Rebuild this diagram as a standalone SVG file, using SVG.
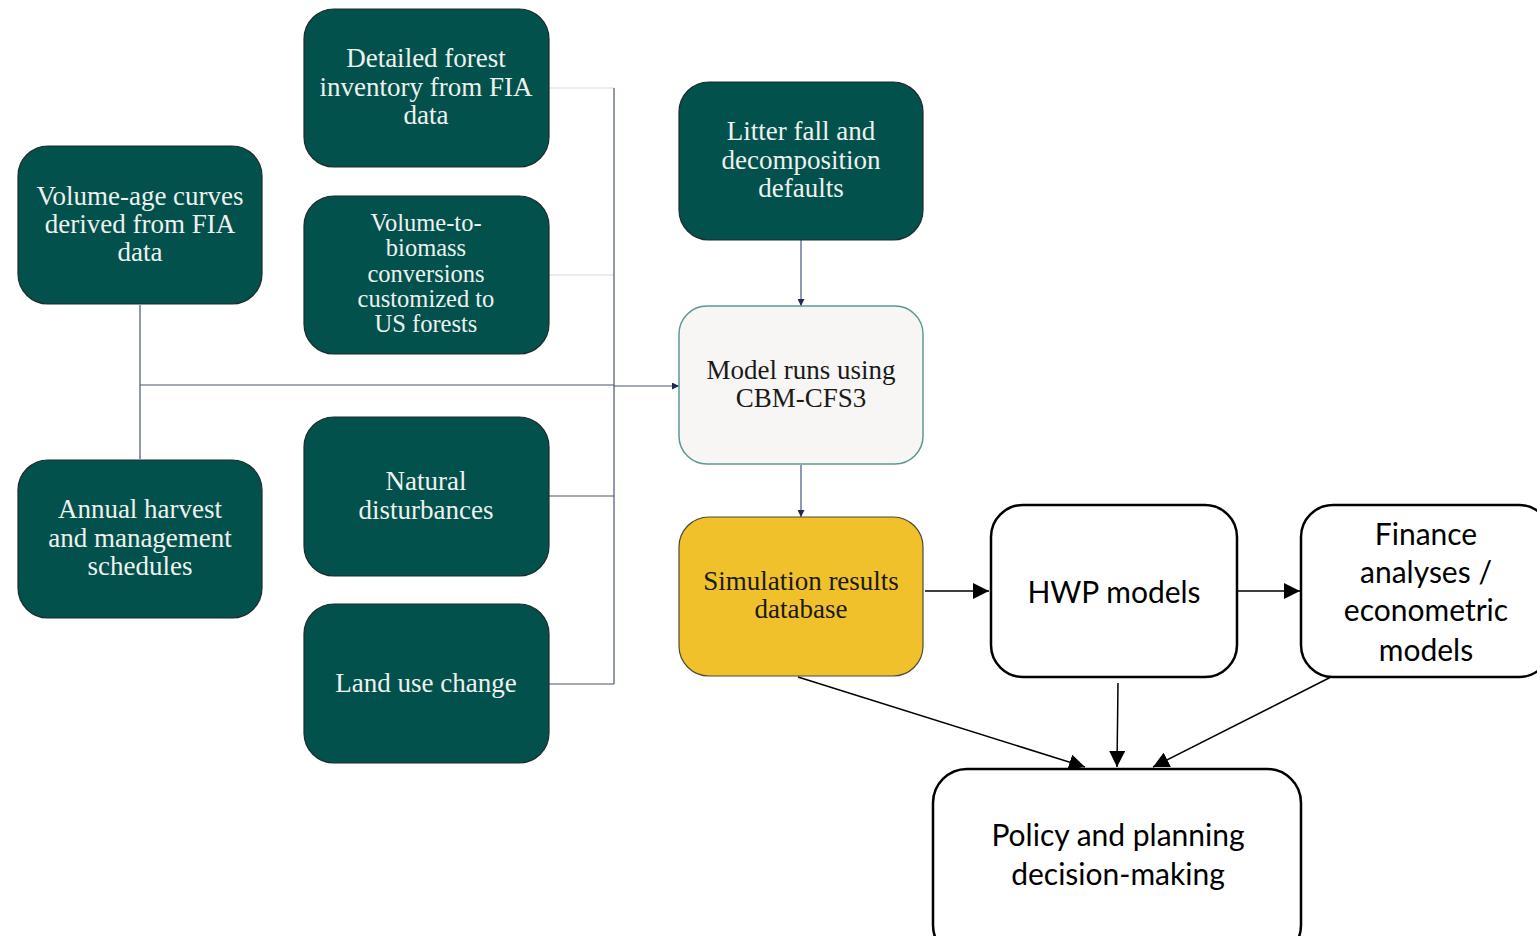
<svg xmlns="http://www.w3.org/2000/svg" width="1537" height="936" viewBox="0 0 1537 936">
  <style>
    .dark { fill: #02514d; stroke: #1d2b2a; stroke-width: 1.2; }
    .light { fill: #f7f6f4; stroke: #5d9894; stroke-width: 1.5; }
    .gold { fill: #f0c12a; stroke: #4a4a3a; stroke-width: 1.2; }
    .plain { fill: #ffffff; stroke: #000000; stroke-width: 2.5; }
    .serif { font-family: "Liberation Serif", "DejaVu Serif", serif; font-size: 27px; text-anchor: middle; }
    .tight { font-size: 24.5px; }
    .onDark { fill: #eef1ee; }
    .onLight { fill: #1a1a1a; }
    .sans { font-family: Lato, "Liberation Sans", sans-serif; font-size: 30px; text-anchor: middle; fill: #000000; }
    .feed { fill: none; stroke: #4a5577; stroke-width: 1.2; }
    .feedPale { fill: none; stroke: #d8d9de; stroke-width: 1.2; }
    .flow { fill: none; stroke: #000000; stroke-width: 1.5; }
  </style>
  <defs>
    <marker id="tiny" viewBox="0 0 10 10" refX="10" refY="5" markerWidth="7" markerHeight="7" markerUnits="userSpaceOnUse" orient="auto">
      <path d="M0,0 L10,5 L0,10 z" fill="#1f2a4f"/>
    </marker>
    <marker id="big" viewBox="0 0 10 10" refX="10" refY="5" markerWidth="16" markerHeight="16" markerUnits="userSpaceOnUse" orient="auto">
      <path d="M0,0 L10,5 L0,10 z" fill="#000000"/>
    </marker>
  </defs>

  <rect width="1537" height="936" fill="#ffffff"/>

  <!-- connectors -->
  <g id="connectors">
    <line class="feedPale" x1="549" y1="88" x2="614" y2="88"/>
    <line class="feedPale" x1="549" y1="275" x2="614" y2="275"/>
    <line class="feed" x1="614" y1="88" x2="614" y2="684"/>
    <line class="feed" x1="549" y1="496" x2="614" y2="496"/>
    <line class="feed" x1="549" y1="684" x2="614" y2="684"/>
    <line class="feed" x1="140" y1="305" x2="140" y2="459"/>
    <line class="feed" x1="140" y1="385" x2="614" y2="385"/>
    <line class="feed" x1="614" y1="386" x2="679" y2="386" marker-end="url(#tiny)"/>
    <line class="feed" x1="801" y1="240" x2="801" y2="306" marker-end="url(#tiny)"/>
    <line class="feed" x1="801" y1="465" x2="801" y2="517" marker-end="url(#tiny)"/>

    <line class="flow" x1="925" y1="591" x2="989" y2="591" marker-end="url(#big)"/>
    <line class="flow" x1="1231" y1="591" x2="1300" y2="591" marker-end="url(#big)"/>
    <line class="flow" x1="798" y1="677" x2="1085" y2="767" marker-end="url(#big)"/>
    <line class="flow" x1="1118" y1="683" x2="1117" y2="767" marker-end="url(#big)"/>
    <line class="flow" x1="1331" y1="677" x2="1153" y2="767" marker-end="url(#big)"/>
  </g>

  <!-- input nodes -->
  <g id="detailed-inventory">
    <rect class="dark" x="304" y="9" width="245" height="158" rx="30"/>
    <text class="serif onDark"><tspan x="426" y="67">Detailed forest</tspan><tspan x="426" y="96">inventory from FIA</tspan><tspan x="426" y="124">data</tspan></text>
  </g>
  <g id="volume-biomass">
    <rect class="dark" x="304" y="196" width="245" height="158" rx="30"/>
    <text class="serif tight onDark"><tspan x="426" y="231">Volume-to-</tspan><tspan x="426" y="256">biomass</tspan><tspan x="426" y="282">conversions</tspan><tspan x="426" y="307">customized to</tspan><tspan x="426" y="332">US forests</tspan></text>
  </g>
  <g id="volume-age">
    <rect class="dark" x="18" y="146" width="244" height="158" rx="30"/>
    <text class="serif onDark"><tspan x="140" y="205">Volume-age curves</tspan><tspan x="140" y="233">derived from FIA</tspan><tspan x="140" y="261">data</tspan></text>
  </g>
  <g id="harvest-schedules">
    <rect class="dark" x="18" y="460" width="244" height="158" rx="30"/>
    <text class="serif onDark"><tspan x="140" y="518">Annual harvest</tspan><tspan x="140" y="547">and management</tspan><tspan x="140" y="575">schedules</tspan></text>
  </g>
  <g id="natural-disturbances">
    <rect class="dark" x="304" y="417" width="245" height="159" rx="30"/>
    <text class="serif onDark"><tspan x="426" y="490">Natural</tspan><tspan x="426" y="519">disturbances</tspan></text>
  </g>
  <g id="land-use-change">
    <rect class="dark" x="304" y="604" width="245" height="159" rx="30"/>
    <text class="serif onDark"><tspan x="426" y="692">Land use change</tspan></text>
  </g>
  <g id="litter-fall">
    <rect class="dark" x="679" y="82" width="244" height="158" rx="30"/>
    <text class="serif onDark"><tspan x="801" y="140">Litter fall and</tspan><tspan x="801" y="169">decomposition</tspan><tspan x="801" y="197">defaults</tspan></text>
  </g>

  <!-- model and results -->
  <g id="model-runs">
    <rect class="light" x="679" y="306" width="244" height="158" rx="28"/>
    <text class="serif onLight"><tspan x="801" y="379">Model runs using</tspan><tspan x="801" y="407">CBM-CFS3</tspan></text>
  </g>
  <g id="simulation-results">
    <rect class="gold" x="679" y="517" width="244" height="159" rx="30"/>
    <text class="serif onLight"><tspan x="801" y="590">Simulation results</tspan><tspan x="801" y="618">database</tspan></text>
  </g>

  <!-- downstream uses -->
  <g id="hwp-models">
    <rect class="plain" x="991" y="505" width="246" height="172" rx="32"/>
    <text class="sans"><tspan x="1114" y="603">HWP models</tspan></text>
  </g>
  <g id="finance-analyses">
    <rect class="plain" x="1301" y="505" width="250" height="172" rx="32"/>
    <text class="sans"><tspan x="1426" y="545">Finance</tspan><tspan x="1426" y="583">analyses /</tspan><tspan x="1426" y="621">econometric</tspan><tspan x="1426" y="661">models</tspan></text>
  </g>
  <g id="policy-planning">
    <rect class="plain" x="933" y="769" width="368" height="190" rx="34"/>
    <text class="sans"><tspan x="1118" y="846">Policy and planning</tspan><tspan x="1118" y="885">decision-making</tspan></text>
  </g>
</svg>
